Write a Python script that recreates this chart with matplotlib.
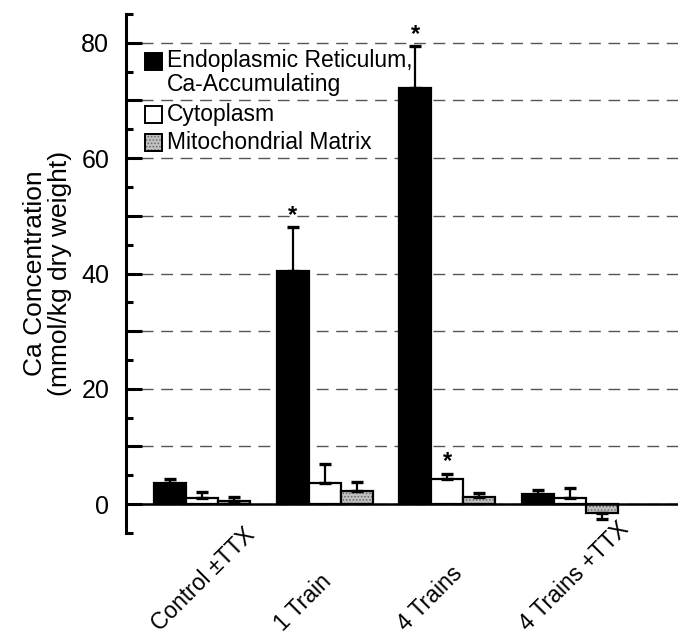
import matplotlib
matplotlib.use("Agg")
import matplotlib.pyplot as plt
import numpy as np
from matplotlib.patches import Rectangle

plt.rcParams['font.family'] = ['Liberation Sans', 'DejaVu Sans']

# ---- data ----
groups = ['Control \u00b1TTX', '1 Train', '4 Trains', '4 Trains +TTX']
er_mean = [3.7, 40.4, 72.2, 1.7]
er_err = [0.6, 7.6, 7.2, 0.7]
cyto_mean = [1.0, 3.6, 4.3, 1.0]
cyto_err = [1.1, 3.3, 0.9, 1.8]
mito_mean = [0.5, 2.2, 1.3, -1.6]
mito_err = [0.8, 1.7, 0.7, 0.9]
er_sig = [False, True, True, False]
cyto_sig = [False, False, True, False]
mito_sig = [False, False, False, False]
legend_labels = ['Endoplasmic Reticulum,\nCa-Accumulating', 'Cytoplasm', 'Mitochondrial Matrix']
ytick_values = [0, 10, 20, 30, 40, 50, 60, 70, 80]
ytick_labels = ['0', '', '20', '', '40', '', '60', '', '80']

W, H = 686, 640
fig = plt.figure(figsize=(W / 100, H / 100), dpi=100)

def fx(px):
    return px / W

def fy(py):
    return 1 - py / H

ax_left, ax_right, ax_top, ax_bot = 126, 678, 14, 533
ax = fig.add_axes([fx(ax_left), fy(ax_bot), fx(ax_right - ax_left), (ax_bot - ax_top) / H])

x = np.arange(len(groups))
w = 0.261

def one_sided(mean, err):
    mean = np.asarray(mean); err = np.asarray(err)
    lower = np.where(mean < 0, err, 0)
    upper = np.where(mean >= 0, err, 0)
    return [lower, upper]

series = [
    (er_mean, er_err, er_sig, -w, dict(color='black', edgecolor='black')),
    (cyto_mean, cyto_err, cyto_sig, 0, dict(color='white', edgecolor='black')),
]
for mean, err, sig, off, style in series:
    ax.bar(x + off, mean, width=w, linewidth=1.6, zorder=2, **style)
    ax.errorbar(x + off, mean, yerr=one_sided(mean, err), fmt='none', ecolor='black',
                elinewidth=1.6, capsize=4, capthick=2.4, zorder=3)

plt.rcParams['hatch.linewidth'] = 0.7
ax.bar(x + w, mito_mean, width=w, facecolor='#c0c0c0', edgecolor='#666666', hatch='.....',
       linewidth=0, zorder=2)
ax.bar(x + w, mito_mean, width=w, fill=False, edgecolor='black', linewidth=1.6, zorder=2.5)
ax.errorbar(x + w, mito_mean, yerr=one_sided(mito_mean, mito_err), fmt='none', ecolor='black',
            elinewidth=1.6, capsize=4, capthick=2.4, zorder=3)

# significance stars
for mean, err, sig, off in [(er_mean, er_err, er_sig, -w), (cyto_mean, cyto_err, cyto_sig, 0),
                            (mito_mean, mito_err, mito_sig, w)]:
    for i in range(len(groups)):
        if sig[i]:
            ax.annotate('*', xy=(x[i] + off, mean[i] + err[i]), xytext=(0, 0.5),
                        textcoords='offset points', ha='center', va='bottom',
                        fontsize=17, fontweight='bold')

ax.axhline(0, color='black', linewidth=1.8, zorder=4)

ax.set_xlim((ax_left - 202) / 122.7, (ax_right - 202) / 122.7)
ax.set_ylim(-5, 85)

for s in ['top', 'right', 'bottom']:
    ax.spines[s].set_visible(False)
ax.spines['left'].set_linewidth(2.2)

ax.set_yticks(ytick_values, ytick_labels, fontsize=18)
ax.set_yticks(np.arange(-5, 86, 5), minor=True)
ax.tick_params(axis='y', which='major', direction='in', length=11.5, width=2.2, pad=12)
ax.tick_params(axis='y', which='minor', direction='in', length=5.2, width=2.2)
ax.yaxis.grid(True, which='major', color='#555555', linewidth=1.0, linestyle=(3, (8.5, 5.5)), zorder=0)
ax.set_axisbelow(True)

ax.set_xticks(x - 0.34, groups, fontsize=16.5, rotation=45, ha='left', va='baseline',
              rotation_mode='anchor')
ax.tick_params(axis='x', length=0, pad=71)

ax.set_ylabel('Ca Concentration\n(mmol/kg dry weight)', fontsize=19, linespacing=1.05)
ax.yaxis.set_label_coords(-0.098, 0.5)

# legend drawn manually
sq = 17
legend_rows = [(61.5, dict(facecolor='black', edgecolor='black')),
               (114.5, dict(facecolor='white', edgecolor='black')),
               (142.5, dict(facecolor='#c0c0c0', edgecolor='#666666', hatch='.....'))]
for (cy, style), label in zip(legend_rows, legend_labels):
    fig.patches.append(Rectangle((fx(145), fy(cy + sq / 2)), sq / W, sq / H,
                                 transform=fig.transFigure, linewidth=1.4, **style))
    if style.get('hatch'):
        fig.patches.append(Rectangle((fx(145), fy(cy + sq / 2)), sq / W, sq / H, fill=False,
                                     transform=fig.transFigure, linewidth=1.4, edgecolor='black'))
    if '\n' in label:
        fig.text(fx(167), fy(cy - 12), label, fontsize=16.5, ha='left', va='top', linespacing=1.0)
    else:
        fig.text(fx(167), fy(cy), label, fontsize=16.5, ha='left', va='center')

fig.savefig('out.png', dpi=100)
